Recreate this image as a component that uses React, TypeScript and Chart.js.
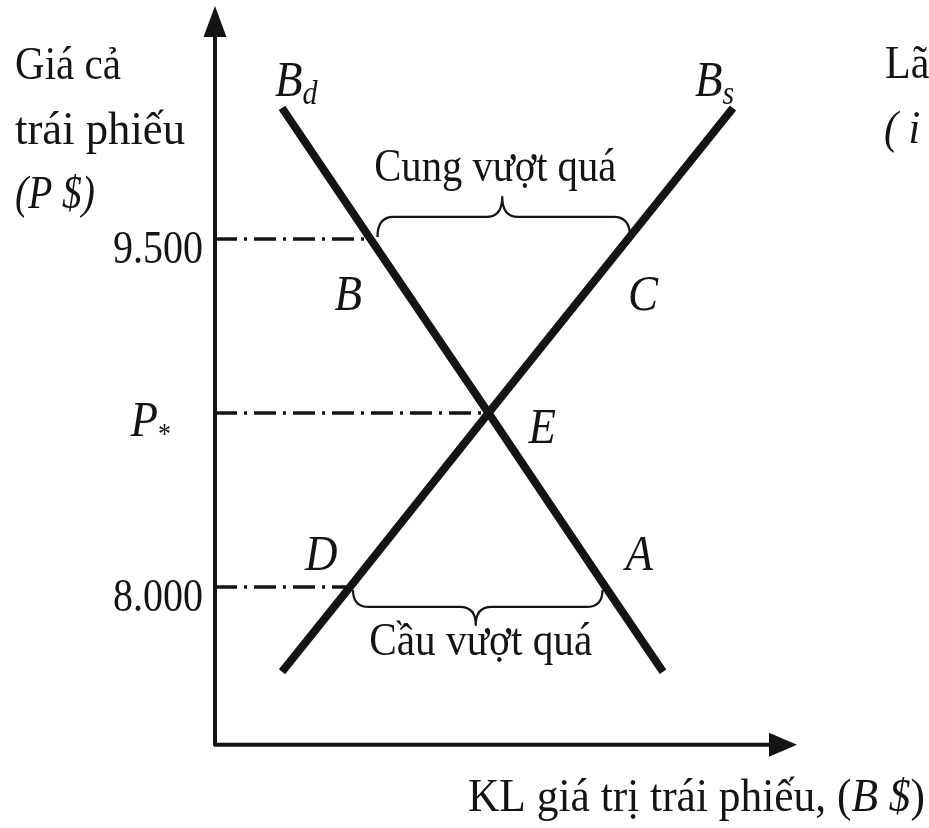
import React, { useEffect, useRef } from "react";
import { Chart, registerables } from "chart.js";

Chart.register(...registerables);

// ---- Data (price in $, quantity in arbitrary bond-value units) ----
const PRICES = [10065, 9500, 8750, 8000, 7635];
const DEMAND_Q = [13.4, 31.1, 54.7, 78.1, 89.6]; // B_d at each price
const SUPPLY_Q = [103.6, 82.6, 54.7, 27.0, 13.4]; // B_s at each price
const PRICE_TICK_VALUES = [9500, 8750, 8000];
const PRICE_TICK_LABELS = ["9.500", "P", "8.000"];
const GUIDE_END_Q = [DEMAND_Q[1], DEMAND_Q[2], SUPPLY_Q[3]]; // B, E, D

const X_MIN = -43;
const X_MAX = 142.8;
const Y_MIN = 6961;
const Y_MAX = 10530;
const AXIS_ORIGIN_P = 7320;
const AXIS_END_Q = 116.4;
const AXIS_END_P = 10504;

const INK = "#141414";
const SERIF = "'Liberation Serif', 'DejaVu Serif', serif";
const ROMAN = `42px ${SERIF}`;
const ITALIC = `italic 45px ${SERIF}`;
const STRETCH = 1.13;

type Run = [string, string, number?];

function drawRuns(
  ctx: CanvasRenderingContext2D,
  parts: Run[],
  x: number,
  y: number,
  align: "left" | "center" | "right" = "left",
  width?: number
) {
  ctx.save();
  ctx.textBaseline = "alphabetic";
  ctx.textAlign = "left";
  let natural = 0;
  for (const [t, f] of parts) {
    ctx.font = f;
    natural += ctx.measureText(t).width;
  }
  const total = width ?? natural;
  const s = total / natural;
  let x0 = x;
  if (align === "center") x0 = x - total / 2;
  if (align === "right") x0 = x - total;
  ctx.translate(x0, y);
  ctx.scale(s, STRETCH);
  let cx = 0;
  for (const [t, f, dy] of parts) {
    ctx.font = f;
    ctx.fillText(t, cx, dy ?? 0);
    cx += ctx.measureText(t).width;
  }
  ctx.restore();
}

function drawBrace(
  ctx: CanvasRenderingContext2D,
  x1: number,
  x2: number,
  yEnd: number,
  yMid: number,
  xTip: number,
  yTip: number
) {
  const r = 16;
  ctx.beginPath();
  ctx.moveTo(x1, yEnd);
  ctx.quadraticCurveTo(x1, yMid, x1 + r, yMid);
  ctx.lineTo(xTip - r, yMid);
  ctx.quadraticCurveTo(xTip, yMid, xTip, yTip);
  ctx.quadraticCurveTo(xTip, yMid, xTip + r, yMid);
  ctx.lineTo(x2 - r, yMid);
  ctx.quadraticCurveTo(x2, yMid, x2, yEnd);
  ctx.stroke();
}

const annotationPlugin = {
  id: "diagramAnnotations",
  afterDatasetsDraw(chart: any) {
    const ctx: CanvasRenderingContext2D = chart.ctx;
    const xs = chart.scales.x;
    const ys = chart.scales.y;
    const px = (q: number) => xs.getPixelForValue(q);
    const py = (p: number) => ys.getPixelForValue(p);

    ctx.save();
    ctx.strokeStyle = INK;
    ctx.fillStyle = INK;

    // Axes
    const ox = px(0);
    const oy = py(AXIS_ORIGIN_P);
    const tipY = py(AXIS_END_P);
    const tipX = px(AXIS_END_Q);
    ctx.lineWidth = 4;
    ctx.lineCap = "round";
    ctx.lineJoin = "round";
    ctx.beginPath();
    ctx.moveTo(ox, tipY + 26);
    ctx.lineTo(ox, oy);
    ctx.lineTo(tipX - 24, oy);
    ctx.stroke();
    // arrow heads
    ctx.beginPath();
    ctx.moveTo(ox, tipY);
    ctx.lineTo(ox + 11.5, tipY + 31);
    ctx.lineTo(ox - 11.5, tipY + 31);
    ctx.closePath();
    ctx.fill();
    ctx.beginPath();
    ctx.moveTo(tipX, oy);
    ctx.lineTo(tipX - 28, oy - 12);
    ctx.lineTo(tipX - 28, oy + 12);
    ctx.closePath();
    ctx.fill();

    // Braces
    ctx.lineWidth = 2.2;
    ctx.lineCap = "butt";
    const bX = px(DEMAND_Q[1]);
    const cX = px(SUPPLY_Q[1]);
    const yHi = py(PRICES[1]);
    drawBrace(ctx, bX + 7, cX + 2, yHi - 2, yHi - 22, (bX + cX) / 2 + 3, yHi - 42);
    const dX = px(SUPPLY_Q[3]);
    const aX = px(DEMAND_Q[3]);
    const yLo = py(PRICES[3]);
    drawBrace(ctx, dX + 3, aX - 3, yLo + 3, yLo + 20, (dX + aX) / 2 - 2, yLo + 38);

    // Axis titles
    drawRuns(ctx, [["Giá cả", ROMAN]], 15, 79, "left", 106);
    drawRuns(ctx, [["trái phiếu", ROMAN]], 15, 144, "left", 170);
    drawRuns(ctx, [["(P $)", `italic 42px ${SERIF}`]], 15, 208, "left", 80);
    drawRuns(ctx, [["Lãi suất", ROMAN]], 885, 78);
    drawRuns(ctx, [["( i %)", `italic 42px ${SERIF}`]], 884, 143);
    drawRuns(
      ctx,
      [
        ["KL giá trị trái phiếu, (", ROMAN],
        ["B $", `italic 42px ${SERIF}`],
        [")", ROMAN],
      ],
      468,
      811,
      "left",
      457
    );

    // Price tick labels
    PRICE_TICK_VALUES.forEach((v, i) => {
      const y = py(v);
      if (PRICE_TICK_LABELS[i] === "P") {
        drawRuns(ctx, [["P", ITALIC], ["*", `26px ${SERIF}`, 6]], 171, y + 23, "right");
      } else {
        drawRuns(ctx, [[PRICE_TICK_LABELS[i], ROMAN]], 203, y + 24, "right", 90);
      }
    });

    // Curve labels
    drawRuns(ctx, [["B", ITALIC], ["d", `italic 30px ${SERIF}`, 7]], 275, 96);
    drawRuns(ctx, [["B", ITALIC], ["s", `italic 30px ${SERIF}`, 7]], 695, 96);

    // Point labels
    drawRuns(ctx, [["B", ITALIC]], bX - 36, yHi + 71);
    drawRuns(ctx, [["C", ITALIC]], cX, yHi + 71);
    const eX = px(DEMAND_Q[2]);
    const eY = py(PRICES[2]);
    drawRuns(ctx, [["E", ITALIC]], eX + 40, eY + 30);
    drawRuns(ctx, [["D", ITALIC]], dX - 45, yLo - 17);
    drawRuns(ctx, [["A", ITALIC]], aX + 20, yLo - 17);

    // Excess labels
    drawRuns(ctx, [["Cung vượt quá", ROMAN]], (bX + cX) / 2 - 4, yHi - 58, "center", 242);
    drawRuns(ctx, [["Cầu vượt quá", ROMAN]], (dX + aX) / 2 + 3, yLo + 68, "center", 223);

    ctx.restore();
  },
};

export default function App() {
  const ref = useRef<HTMLCanvasElement | null>(null);

  useEffect(() => {
    if (!ref.current) return;
    const line = (qs: number[], ps: number[]) => qs.map((q, i) => ({ x: q, y: ps[i] }));
    const guides = PRICE_TICK_VALUES.map((p, i) => ({
      label: "guide" + i,
      data: [
        { x: 0, y: p },
        { x: GUIDE_END_Q[i], y: p },
      ],
      borderColor: INK,
      borderWidth: 3.5,
      borderDash: [22, 7, 3, 7],
      pointRadius: 0,
      fill: false,
    }));
    const chart = new Chart(ref.current, {
      type: "line",
      data: {
        datasets: [
          {
            label: "B_d",
            data: line(DEMAND_Q, PRICES),
            borderColor: INK,
            borderWidth: 8,
            pointRadius: 0,
            fill: false,
            tension: 0,
            borderCapStyle: "butt",
          },
          {
            label: "B_s",
            data: line(SUPPLY_Q, PRICES),
            borderColor: INK,
            borderWidth: 8,
            pointRadius: 0,
            fill: false,
            tension: 0,
            borderCapStyle: "butt",
          },
          ...guides,
        ],
      },
      options: {
        animation: false,
        responsive: true,
        maintainAspectRatio: false,
        layout: { padding: 0 },
        plugins: { legend: { display: false }, tooltip: { enabled: false } },
        events: [],
        scales: {
          x: { type: "linear", min: X_MIN, max: X_MAX, display: false },
          y: { type: "linear", min: Y_MIN, max: Y_MAX, display: false },
        },
      },
      plugins: [annotationPlugin],
    } as any);
    return () => chart.destroy();
  }, []);

  return (
    <div
      style={{
        position: "absolute",
        left: 0,
        top: 0,
        width: 929,
        height: 828,
        background: "#fff",
      }}
    >
      <canvas ref={ref} />
    </div>
  );
}
